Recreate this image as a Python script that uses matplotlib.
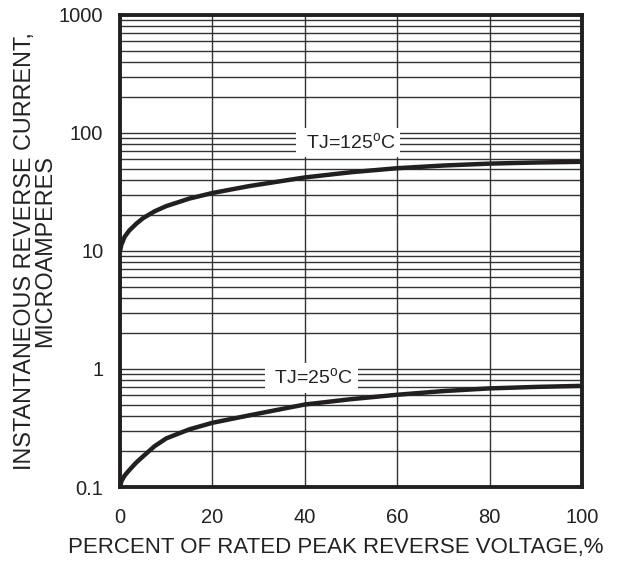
#!/usr/bin/env python3

import matplotlib
matplotlib.use('Agg')
import matplotlib.pyplot as plt
from matplotlib.ticker import LogLocator, NullFormatter

plt.rcParams['font.family'] = ['Liberation Sans', 'DejaVu Sans']

# values
pct = [0, 0.3, 1, 2, 3.5, 5, 7.5, 10, 15, 20, 28, 40, 50, 60, 70, 80, 90, 100]
ir_125 = [10, 11.3, 13.2, 14.9, 17.0, 19.0, 21.7, 24.0, 27.8, 31.0, 35.5,
          42.0, 46.5, 50.3, 53.0, 55.0, 56.2, 57.0]
ir_25 = [0.1, 0.112, 0.125, 0.139, 0.161, 0.182, 0.222, 0.258, 0.308, 0.35, 0.405,
         0.5, 0.555, 0.605, 0.65, 0.685, 0.705, 0.72]

x_ticks = [0, 20, 40, 60, 80, 100]
y_ticks = [0.1, 1, 10, 100, 1000]
y_tick_labels = ['0.1', '1', '10', '100', '1000']

ink = '#231f20'
txt = '#222222'

fig = plt.figure(figsize=(6.33, 5.61), dpi=100)
ax = fig.add_axes([0.1896, 0.1319, 0.7298, 0.8414])

ax.plot(pct, ir_125, color=ink, lw=3.2, solid_capstyle='butt', zorder=3)
ax.plot(pct, ir_25, color=ink, lw=3.2, solid_capstyle='butt', zorder=3)

ax.set_yscale('log')
ax.set_xlim(0, 100)
ax.set_ylim(0.1, 1000)

ax.set_xticks(x_ticks)
ax.set_yticks(y_ticks)
ax.set_yticklabels(y_tick_labels)
ax.yaxis.set_minor_locator(LogLocator(base=10, subs=range(2, 10)))
ax.yaxis.set_minor_formatter(NullFormatter())
ax.tick_params(which='both', length=0, labelsize=14.5, colors=txt)
ax.tick_params(axis='x', pad=15)
ax.tick_params(axis='y', pad=12)

ax.grid(True, which='major', axis='x', color='#333333', lw=1.0)
ax.grid(True, which='both', axis='y', color='#333333', lw=1.0)
ax.set_axisbelow(True)

for s in ax.spines.values():
    s.set_linewidth(2.8)
    s.set_color(ink)

box = dict(boxstyle='square,pad=0.22', facecolor='white', edgecolor='none')
ax.text(49.4, 83, ' TJ=125$^\\mathregular{o}$C ', fontsize=14, color=txt,
        ha='center', va='center', bbox=box, zorder=2)
ax.text(41.5, 0.84, ' TJ=25$^\\mathregular{o}$C ', fontsize=14, color=txt,
        ha='center', va='center', bbox=box, zorder=2)

ax.set_xlabel('PERCENT OF RATED PEAK REVERSE VOLTAGE,%', fontsize=16, color=txt, labelpad=7)
ax.xaxis.set_label_coords(0.466, -0.105)
ax.set_ylabel('INSTANTANEOUS REVERSE CURRENT,\nMICROAMPERES', fontsize=16.8, color=txt,
              labelpad=2, linespacing=0.84)

fig.savefig('out.png', dpi=100)
